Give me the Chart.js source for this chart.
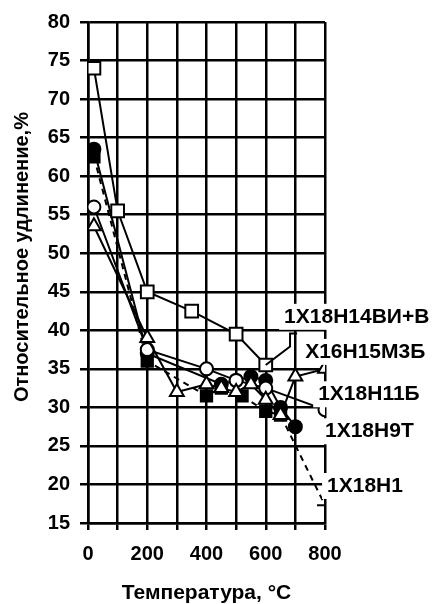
<!DOCTYPE html>
<html>
<head>
<meta charset="utf-8">
<script src="https://cdn.jsdelivr.net/npm/chart.js@4.4.1/dist/chart.umd.min.js"></script>
<style>
  html, body { margin: 0; padding: 0; background: #fff; }
  #wrap { width: 433px; height: 604px; }
</style>
</head>
<body>
<div id="wrap"><canvas id="chart" width="433" height="604"></canvas></div>
<script>
// Относительное удлинение (%) vs температура (°C)

// 1Х18Н14ВИ+В - open squares
const tempSq = [20, 100, 200, 350, 500, 600];
const elongSq = [74, 55.5, 45, 42.5, 39.5, 35.5];

// Х16Н15М3Б - open triangles
const tempTri = [20, 200, 300, 400, 450, 500, 550, 600, 650, 700, 800];
const elongTri = [53.5, 39, 32, 33, 32.5, 32, 33, 31, 29, 34, 35];

// 1Х18Н11Б - open circles
const tempCirc = [20, 200, 400, 500, 600, 800];
const elongCirc = [56, 37.5, 35, 33.5, 32.5, 29.7];

// 1Х18Н9Т - filled circles
const tempDot = [20, 200, 450, 500, 550, 600, 650, 700];
const elongDot = [63.5, 37, 33, 33.5, 34, 33.5, 30, 27.5];

// 1Х18Н1 - filled squares, dashed
const tempBox = [20, 200, 400, 450, 520, 600, 650, 800];
const elongBox = [62.5, 36, 31.5, 32.5, 31.5, 29.5, 29, 17.3];

// curve names and where they sit (left edge temp, middle elongation)
const steelNames = ["1Х18Н14ВИ+В", "Х16Н15М3Б", "1Х18Н11Б", "1Х18Н9Т", "1Х18Н1"];
const nameTemp = [662, 733, 777, 800, 807];
const nameElong = [41.75, 37.2, 31.7, 26.9, 19.8];

// leader from the end of the 1Х18Н14ВИ+В curve
const leaderTemp = [600, 682, 682, 706];
const leaderElong = [35.5, 37.9, 39.6, 39.6];

const yTitle = "Относительное удлинение,%";
const FONT = '"Liberation Sans", Arial, sans-serif';

function pts(xs, ys) {
  return xs.map((x, i) => ({ x, y: ys[i] }));
}

function series(label, xs, ys, style, filled, extra) {
  return Object.assign({
    label,
    data: pts(xs, ys),
    showLine: true,
    borderColor: "#000",
    borderWidth: 2,
    tension: 0,
    pointStyle: style,
    pointBackgroundColor: filled ? "#000" : "#fff",
    pointBorderColor: "#000",
    pointBorderWidth: 2,
  }, extra);
}

// curve names on white boxes (they hide the grid underneath) + the y title
const steelLabels = {
  id: "steelLabels",
  afterDatasetsDraw(chart) {
    const { ctx, scales: { x, y } } = chart;
    ctx.save();
    ctx.strokeStyle = "#000";
    ctx.lineWidth = 2;
    ctx.beginPath();
    leaderTemp.forEach((t, i) => {
      const px = x.getPixelForValue(t);
      const py = y.getPixelForValue(leaderElong[i]);
      if (i) ctx.lineTo(px, py); else ctx.moveTo(px, py);
    });
    ctx.stroke();

    ctx.font = "bold 21px " + FONT;
    ctx.textBaseline = "middle";
    steelNames.forEach((name, i) => {
      const px = x.getPixelForValue(nameTemp[i]);
      const py = y.getPixelForValue(nameElong[i]);
      ctx.fillStyle = "#fff";
      ctx.fillRect(px - 5, py - 13, chart.width - px + 5, 26);
      ctx.fillStyle = "#000";
      ctx.fillText(name, px, py);
    });

    // y title sits a bit above the middle of the axis in the original
    ctx.translate(22, y.getPixelForValue(49.5));
    ctx.rotate(-Math.PI / 2);
    ctx.font = "bold 20px " + FONT;
    ctx.textAlign = "center";
    ctx.fillText(yTitle, 0, 0);
    ctx.restore();
  },
};

const tickFont = { family: FONT, size: 20, weight: "bold" };
const gridStyle = { color: "#000", lineWidth: 2.5, tickColor: "#000" };

new Chart(document.getElementById("chart"), {
  type: "scatter",
  data: {
    datasets: [
      series(steelNames[0], tempSq, elongSq, "rect", false, { pointRadius: 9 }),
      series(steelNames[1], tempTri, elongTri, "triangle", false, { pointRadius: 8 }),
      series(steelNames[2], tempCirc, elongCirc, "circle", false, { pointRadius: 6.5 }),
      series(steelNames[3], tempDot, elongDot, "circle", true, { pointRadius: 6.5 }),
      series(steelNames[4], tempBox, elongBox, tempBox.map((t, i) => (i === tempBox.length - 1 ? "line" : "rect")), true, {
        pointRadius: 8,
        borderDash: [6, 5],
      }),
    ],
  },
  options: {
    responsive: false,
    animation: false,
    events: [],
    layout: { padding: { top: 20, right: 108, bottom: 0, left: 0 } },
    plugins: { legend: { display: false }, tooltip: { enabled: false } },
    scales: {
      x: {
        type: "linear",
        min: 0,
        max: 800,
        afterFit: (s) => { s.height = 81; },
        ticks: {
          stepSize: 100,
          autoSkip: false,
          maxRotation: 0,
          padding: 12,
          color: "#000",
          font: tickFont,
          callback: (v) => (v % 200 === 0 ? v : ""),
        },
        grid: Object.assign({ tickLength: 7 }, gridStyle),
        border: { color: "#000", width: 2.5 },
        title: {
          display: true,
          text: "Температура, °C",
          color: "#000",
          font: { family: FONT, size: 21, weight: "bold", lineHeight: 1 },
          padding: 0,
        },
      },
      y: {
        min: 15,
        max: 80,
        afterFit: (s) => { s.width = 88; },
        ticks: { stepSize: 5, padding: 10, color: "#000", font: tickFont },
        grid: Object.assign({ tickLength: 8 }, gridStyle),
        border: { color: "#000", width: 2.5 },
      },
    },
  },
  plugins: [steelLabels],
});
</script>
</body>
</html>
